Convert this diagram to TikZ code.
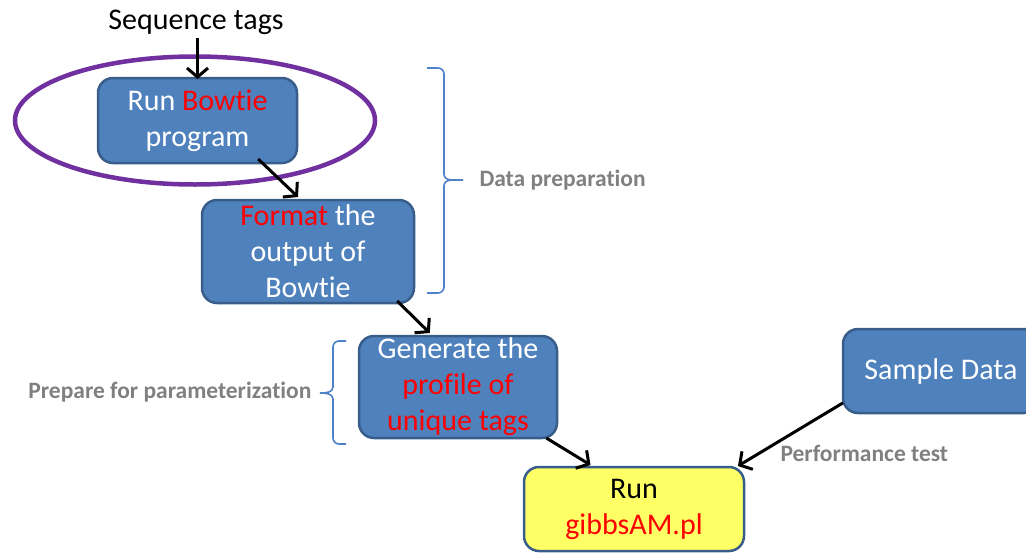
\documentclass[tikz,border=0pt]{standalone}
\usepackage{fontspec}
\setmainfont[Ligatures=NoCommon]{Carlito}
\usetikzlibrary{arrows.meta}
\definecolor{boxblue}{RGB}{79,129,189}
\definecolor{boxedge}{RGB}{56,93,138}
\definecolor{boxyellow}{RGB}{255,255,102}
\definecolor{ringpurple}{RGB}{112,48,160}
\definecolor{labelgray}{RGB}{128,128,128}
\definecolor{bracecol}{RGB}{79,129,200}
\tikzset{
  stepbox/.style={draw=boxedge, line width=2.5pt, fill=boxblue, rounded corners=15pt,
    text=white, font=\fontsize{30}{36}\selectfont, align=center, inner sep=0pt, outer sep=0pt},
  runbox/.style={stepbox, fill=boxyellow, text=black},
  flow/.style={draw=black, line width=3pt, -{Straight Barb[length=9pt,width=21pt]}},
  sidelabel/.style={text=labelgray, font=\bfseries\fontsize{23.5}{28}\selectfont},
  bracket/.style={draw=bracecol, line width=1.6pt},
}
\begin{document}
\begin{tikzpicture}[x=1pt,y=-1pt]
\useasboundingbox (0,0) rectangle (1026,552);

% processing steps
\node[stepbox, minimum width=199pt, minimum height=85pt] (bowtie) at (197.5,120.5)
  {Run \textcolor{red}{Bowtie}\\program};
\node[stepbox, minimum width=212pt, minimum height=103pt] (fmt) at (308,251.5)
  {\textcolor{red}{Format} the\\output of\\Bowtie};
\node[stepbox, minimum width=198pt, minimum height=102pt] (gen) at (458,387)
  {\raisebox{-3pt}{Generate the}\\\raisebox{-3pt}{\textcolor{red}{profile of}}\\\raisebox{-3pt}{\textcolor{red}{unique tags}}};
\node[stepbox, minimum width=196pt, minimum height=84pt] (samp) at (941,371)
  {Sample Data};
\node[runbox, minimum width=220pt, minimum height=84pt] (run) at (634,509)
  {Run\\\textcolor{red}{gibbsAM.pl}};

% input label and highlight ring
\node[font=\fontsize{30}{36}\selectfont, inner sep=0pt] (seq) at (196,22) {Sequence tags};
\draw[ringpurple, line width=4.5pt] (195,120.5) ellipse [x radius=180pt, y radius=64pt];

% connectors
\draw[flow] ([yshift=-3pt]seq.south -| bowtie.north) -- ([yshift=-1pt]bowtie.north);
\draw[flow] ([shift={(0pt,4pt)}]bowtie.-35) -- ([yshift=3pt]fmt.101);
\draw[flow] ([shift={(0pt,2pt)}]fmt.-30) -- ([yshift=3pt]gen.119);
\draw[flow] (gen.-30) -- ([yshift=2pt]run.136);
\draw[flow] (samp.198) -- ([yshift=1pt]run.22);

% group braces
\coordinate (dpTop) at (427,68);
\coordinate (dpTip) at (463,180);
\coordinate (dpBot) at (427,293);
\draw[bracket] (dpTop) -- (438,68) to[out=0,in=90] (444,74) -- (444,174)
  to[out=-90,in=180] (dpTip) to[out=180,in=90] (444,186) -- (444,287)
  to[out=-90,in=0] (438,293) -- (dpBot);
\node[sidelabel, anchor=west] (dplabel) at (476,180) {Data preparation};

\coordinate (ppTop) at (346,341);
\coordinate (ppTip) at (320,393);
\coordinate (ppBot) at (346,444);
\draw[bracket] (ppTop) -- (339,341) to[out=180,in=90] (333,347) -- (333,387)
  to[out=-90,in=0] (ppTip) to[out=0,in=90] (333,399) -- (333,438)
  to[out=-90,in=180] (339,444) -- (ppBot);
\node[sidelabel, anchor=east] (pplabel) at (315,392) {Prepare for parameterization};

\node[sidelabel, anchor=west] (ptlabel) at (777,453) {Performance test};
\end{tikzpicture}
\end{document}
